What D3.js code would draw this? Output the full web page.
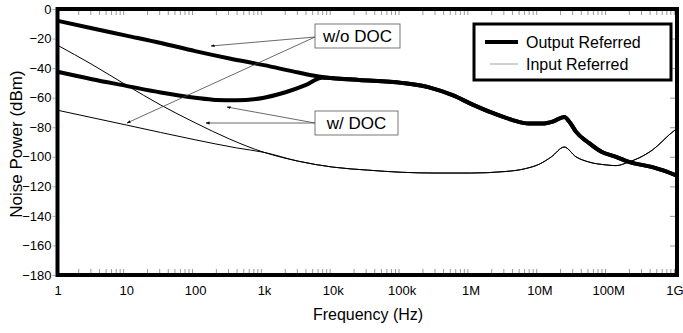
<!DOCTYPE html>
<html><head><meta charset="utf-8">
<script src="https://cdn.jsdelivr.net/npm/d3@7"></script>
<style>
html,body{margin:0;padding:0;background:#fff;}
text{font-family:"Liberation Sans",Arial,sans-serif;fill:#000;}
</style></head>
<body>
<svg id="c" width="683" height="333"></svg>
<script>
// ---- data (frequency in Hz, noise power in dBm) ----
const outputNoDOC = [[1,-8],[3.16,-13],[10,-18],[31.6,-23],[100,-28.5],[316,-33.5],[1e3,-38],[3.16e3,-43],[7e3,-46],[1e4,-46.8],[2.4e4,-48],[1e5,-50],[2.5e5,-53],[5.6e5,-58.5],[1e6,-64],[2e6,-70],[4e6,-75],[7e6,-77.5],[1.1e7,-77.5],[1.6e7,-76],[2.3e7,-73],[2.8e7,-77],[3.4e7,-83],[5.2e7,-90.5],[8.1e7,-96.8],[1.3e8,-100],[2e8,-103.5],[4.4e8,-107],[9e8,-112],[1e9,-113]];
const outputDOC = [[1,-42.5],[3.16,-47.5],[10,-52],[31.6,-56.5],[100,-60],[200,-61.5],[400,-61.8],[1e3,-60],[2e3,-56.5],[4e3,-51.5],[7e3,-46.5],[1e4,-46.8],[2.4e4,-48],[1e5,-50],[2.5e5,-53],[5.6e5,-58.5],[1e6,-64],[2e6,-70],[4e6,-75],[7e6,-77.5],[1.1e7,-77.5],[1.6e7,-76],[2.3e7,-73],[2.8e7,-77],[3.4e7,-83],[5.2e7,-90.5],[8.1e7,-96.8],[1.3e8,-100],[2e8,-103.5],[4.4e8,-107],[9e8,-112],[1e9,-113]];
const inputNoDOC = [[1,-24.5],[3.16,-37.5],[10,-51.5],[31.6,-65],[100,-77],[316,-88],[1e3,-97],[3.16e3,-103],[1e4,-107],[3.16e4,-109],[1e5,-110.5],[3.16e5,-111],[1e6,-111],[3.16e6,-110],[6.3e6,-108],[1e7,-105],[1.5e7,-100],[2.3e7,-93.4],[3.4e7,-100],[5.2e7,-103.5],[9.3e7,-105.5],[1.3e8,-106],[2e8,-103.5],[2.8e8,-100.8],[4.4e8,-95.4],[9e8,-82.5],[1e9,-81]];
const inputDOC = [[1,-68.5],[10,-78.5],[100,-88.5],[400,-94],[1e3,-97],[3.16e3,-103],[1e4,-107],[3.16e4,-109],[1e5,-110.5],[3.16e5,-111],[1e6,-111],[3.16e6,-110],[6.3e6,-108],[1e7,-105],[1.5e7,-100],[2.3e7,-93.4],[3.4e7,-100],[5.2e7,-103.5],[9.3e7,-105.5],[1.3e8,-106],[2e8,-103.5],[2.8e8,-100.8],[4.4e8,-95.4],[9e8,-82.5],[1e9,-81]];
const xTickValues = [1,10,100,1e3,1e4,1e5,1e6,1e7,1e8,1e9];
const xTickLabels = ["1","10","100","1k","10k","100k","1M","10M","100M","1G"];
const yTickValues = [0,-20,-40,-60,-80,-100,-120,-140,-160,-180];
const legendLabels = ["Output Referred","Input Referred"];
const annotations = ["w/o DOC","w/ DOC"];

// ---- layout ----
const svg = d3.select("#c");
const L = 57.5, R = 677, T = 9, B = 275;
const x = d3.scaleLog().domain([1,1e9]).range([L,R]);
const y = d3.scaleLinear().domain([-180,0]).range([B,T]);

const defs = svg.append("defs");
defs.append("clipPath").attr("id","clip")
  .append("rect").attr("x",L).attr("y",T).attr("width",R-L).attr("height",B-T);
const m = defs.append("marker").attr("id","arr")
  .attr("viewBox","0 0 10 10").attr("refX",9).attr("refY",5)
  .attr("markerWidth",5).attr("markerHeight",5).attr("orient","auto");
m.append("path").attr("d","M0,1.5L10,5L0,8.5Z").attr("fill","#000");

// minor x ticks (inside, top & bottom)
const minor = [];
for (let d=0; d<9; d++) for (let k=2; k<=9; k++) minor.push(k*Math.pow(10,d));
const gMinorB = svg.append("g").attr("transform",`translate(0,${B-2})`)
  .call(d3.axisBottom(x).tickValues(minor).tickSize(-4).tickFormat(""));
const gMinorT = svg.append("g").attr("transform",`translate(0,${T+2})`)
  .call(d3.axisTop(x).tickValues(minor).tickSize(-4).tickFormat(""));
[gMinorB,gMinorT].forEach(g=>{g.select(".domain").remove();g.selectAll("line").attr("stroke","#999");});

// x axis labels
const gx = svg.append("g").attr("transform",`translate(0,${B})`)
  .call(d3.axisBottom(x).tickValues(xTickValues).tickSize(0).tickPadding(11)
  .tickFormat((d,i)=>xTickLabels[i]));
gx.select(".domain").remove();
gx.selectAll("text").attr("font-size",13).attr("font-family","Liberation Sans, Arial, sans-serif");
gx.selectAll("text").filter(d=>d===1e9).attr("text-anchor","end").attr("dx",6);

// y axis (left labels + small outside ticks)
const gy = svg.append("g").attr("transform",`translate(${L-2},0)`)
  .call(d3.axisLeft(y).tickValues(yTickValues).tickSize(3).tickPadding(1));
gy.select(".domain").remove();
gy.selectAll("line").attr("stroke","#aaa");
gy.selectAll("text").attr("font-size",13).attr("font-family","Liberation Sans, Arial, sans-serif");
// right inside ticks
const gyr = svg.append("g").attr("transform",`translate(${R-2},0)`)
  .call(d3.axisLeft(y).tickValues(yTickValues).tickSize(0).tickFormat(""));
gyr.select(".domain").remove();
gyr.selectAll("line").attr("x2",-5).attr("stroke","#999");

// curves
const line = d3.line().x(d=>x(d[0])).y(d=>y(d[1])).curve(d3.curveMonotoneX);
const gc = svg.append("g").attr("clip-path","url(#clip)");
gc.append("path").datum(inputDOC).attr("d",line).attr("fill","none").attr("stroke","#000").attr("stroke-width",1);
gc.append("path").datum(inputNoDOC).attr("d",line).attr("fill","none").attr("stroke","#000").attr("stroke-width",1);
gc.append("path").datum(outputDOC).attr("d",line).attr("fill","none").attr("stroke","#000").attr("stroke-width",4);
gc.append("path").datum(outputNoDOC).attr("d",line).attr("fill","none").attr("stroke","#000").attr("stroke-width",4);

// annotation leaders
const leaders = [
  [[315,37],[211,46]],[[315,37],[127,123]],
  [[315,123],[227,107]],[[315,123],[206,123]]
];
leaders.forEach(p=>{
  svg.append("line").attr("x1",p[0][0]).attr("y1",p[0][1]).attr("x2",p[1][0]).attr("y2",p[1][1])
    .attr("stroke","#444").attr("stroke-width",0.8).attr("marker-end","url(#arr)");
});
// annotation boxes
const boxes = [{x:315,y:24,w:85,h:24,t:annotations[0]},{x:315,y:111,w:83,h:24,t:annotations[1]}];
boxes.forEach(b=>{
  svg.append("rect").attr("x",b.x).attr("y",b.y).attr("width",b.w).attr("height",b.h)
    .attr("fill","#fff").attr("stroke","#555").attr("stroke-width",0.8);
  svg.append("text").attr("x",b.x+b.w/2).attr("y",b.y+b.h/2+6).attr("text-anchor","middle")
    .attr("font-size",17).text(b.t);
});

// frame
svg.append("rect").attr("x",L).attr("y",T).attr("width",R-L).attr("height",B-T)
  .attr("fill","none").attr("stroke","#000").attr("stroke-width",4);

// legend
svg.append("rect").attr("x",474).attr("y",24).attr("width",197).attr("height",56)
  .attr("fill","#fff").attr("stroke","#000").attr("stroke-width",3);
svg.append("line").attr("x1",485).attr("x2",518).attr("y1",42).attr("y2",42).attr("stroke","#000").attr("stroke-width",4);
svg.append("line").attr("x1",490).attr("x2",518).attr("y1",64).attr("y2",64).attr("stroke","#888").attr("stroke-width",0.8);
svg.append("text").attr("x",526).attr("y",48).attr("font-size",16).text(legendLabels[0]);
svg.append("text").attr("x",526).attr("y",70).attr("font-size",16).text(legendLabels[1]);

// axis titles
svg.append("text").attr("x",368).attr("y",320).attr("text-anchor","middle").attr("font-size",16).text("Frequency (Hz)");
svg.append("text").attr("transform","translate(22,144) rotate(-90)").attr("text-anchor","middle").attr("font-size",17).text("Noise Power (dBm)");
</script>
</body></html>
